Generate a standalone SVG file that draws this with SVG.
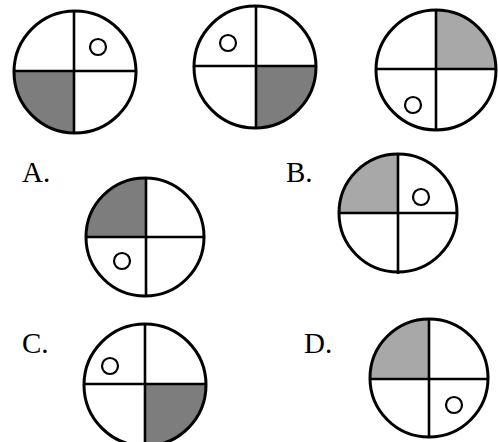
<svg xmlns="http://www.w3.org/2000/svg" width="498" height="442" viewBox="0 0 498 442">
<style>
.bg{fill:#fff}
.ring{fill:none;stroke:#000;stroke-width:3}
.ln{stroke:#000;stroke-width:2.6}
.dot{fill:none;stroke:#000;stroke-width:2.2}
.dk{fill:#7d7d7d}
.lt{fill:#a8a8a8}
.lbl{font-family:"Liberation Serif",serif;font-size:29px;fill:#000}
</style>
<rect width="498" height="442" fill="#fff"/>
<g id="fig1">
<path class="dk" d="M75 71 L14 71 A61 61 0 0 0 75 132 Z"/>
<circle class="ring" cx="75" cy="72" r="61"/>
<line class="ln" x1="74" y1="11" x2="74" y2="133"/>
<line class="ln" x1="14" y1="71" x2="136" y2="71"/>
<circle class="dot" cx="98" cy="47" r="8"/>
</g>
<g id="fig2">
<path class="dk" d="M256 66 L316 66 A60 61 0 0 1 256 127 Z"/>
<circle class="ring" cx="255" cy="67" r="61"/>
<line class="ln" x1="256" y1="6" x2="256" y2="128"/>
<line class="ln" x1="194" y1="66" x2="316" y2="66"/>
<circle class="dot" cx="228" cy="43" r="8"/>
</g>
<g id="fig3">
<path class="lt" d="M436 69 L436 10 A60 60 0 0 1 496 69 Z"/>
<circle class="ring" cx="436" cy="70" r="60"/>
<line class="ln" x1="436" y1="10" x2="436" y2="130"/>
<line class="ln" x1="375" y1="69" x2="497" y2="69"/>
<circle class="dot" cx="413" cy="105" r="8"/>
</g>
<g id="optA">
<text class="lbl" x="22" y="182">A.</text>
<path class="dk" d="M146 237 L87 237 A59 60 0 0 1 146 177 Z"/>
<circle class="ring" cx="145" cy="237" r="59"/>
<line class="ln" x1="146" y1="177" x2="146" y2="297"/>
<line class="ln" x1="86" y1="237" x2="204" y2="237"/>
<circle class="dot" cx="122" cy="261" r="8"/>
</g>
<g id="optB">
<text class="lbl" x="286" y="182">B.</text>
<path class="lt" d="M398 213 L339 213 A59 60 0 0 1 398 153 Z"/>
<circle class="ring" cx="398" cy="213" r="59"/>
<line class="ln" x1="398" y1="153" x2="398" y2="274"/>
<line class="ln" x1="339" y1="213" x2="457" y2="213"/>
<circle class="dot" cx="421" cy="197" r="8"/>
</g>
<g id="optC">
<text class="lbl" x="22" y="353">C.</text>
<path class="dk" d="M145 384 L206 384 A61 61 0 0 1 145 445 Z"/>
<circle class="ring" cx="145" cy="385" r="61"/>
<line class="ln" x1="145" y1="324" x2="145" y2="446"/>
<line class="ln" x1="84" y1="384" x2="206" y2="384"/>
<circle class="dot" cx="110" cy="366" r="8"/>
</g>
<g id="optD">
<text class="lbl" x="304" y="353">D.</text>
<path class="lt" d="M429 379 L370 379 A59 61 0 0 1 429 318 Z"/>
<circle class="ring" cx="429" cy="378" r="59"/>
<line class="ln" x1="429" y1="318" x2="429" y2="438"/>
<line class="ln" x1="370" y1="379" x2="488" y2="379"/>
<circle class="dot" cx="454" cy="405" r="8"/>
</g>
</svg>
